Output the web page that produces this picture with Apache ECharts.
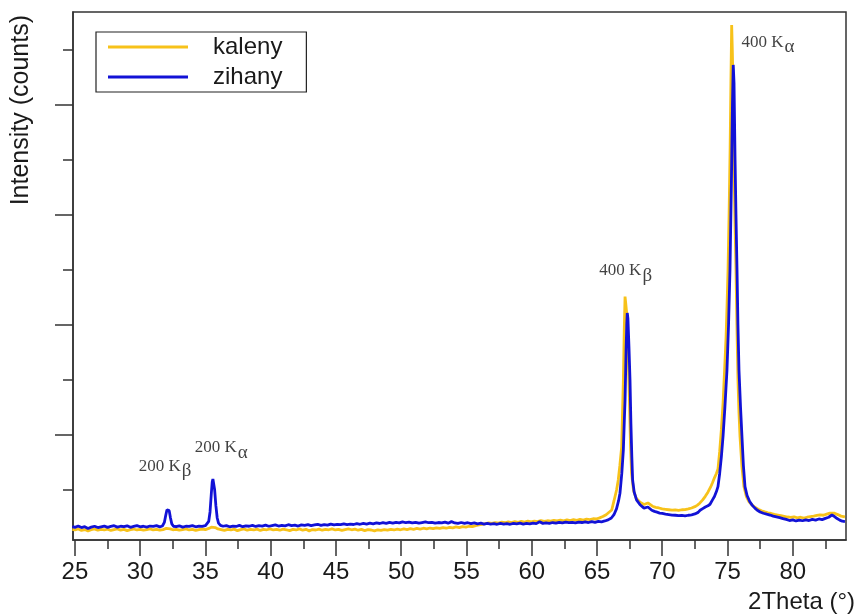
<!DOCTYPE html>
<html><head><meta charset="utf-8">
<script src="https://cdn.jsdelivr.net/npm/echarts@6/dist/echarts.min.js"></script>
<style>html,body{margin:0;padding:0;background:#fff}#c{width:860px;height:614px}</style>
</head><body><div id="c"></div>
<script>
// 2Theta (deg), intensity (counts)
const kaleny = [
[24.8,142],[25.0,136],[25.25,145],[25.5,132],[25.75,140],[26.0,128],[26.25,138],[26.5,146],[26.75,134],[27.0,142],
[27.25,136],[27.5,144],[27.75,132],[28.0,140],[28.25,146],[28.5,135],[28.75,142],[29.0,130],[29.25,140],[29.5,145],
[29.75,136],[30.0,142],[30.25,134],[30.5,140],[30.75,146],[31.0,136],[31.25,142],[31.5,134],[31.75,140],[32.0,150],
[32.15,156],[32.3,146],[32.5,138],[32.75,142],[33.0,134],[33.25,140],[33.5,146],[33.75,136],[34.0,142],[34.25,132],
[34.5,140],[34.75,145],[35.0,140],[35.25,150],[35.45,162],[35.6,168],[35.75,158],[35.95,146],[36.2,140],[36.45,132],
[36.7,142],[36.95,136],[37.2,144],[37.45,130],[37.7,140],[37.95,146],[38.2,134],[38.45,142],[38.7,136],[38.95,144],
[39.2,132],[39.45,142],[39.7,138],[39.95,146],[40.2,136],[40.45,142],[40.7,134],[40.95,144],[41.2,138],[41.45,130],
[41.7,142],[41.95,136],[42.2,146],[42.45,134],[42.7,142],[42.95,128],[43.2,140],[43.45,136],[43.7,144],[43.95,134],
[44.2,142],[44.45,138],[44.7,146],[44.95,136],[45.2,142],[45.45,132],[45.7,140],[45.95,146],[46.2,138],[46.45,144],
[46.7,134],[46.95,142],[47.2,130],[47.45,140],[47.7,136],[47.95,128],[48.2,138],[48.45,132],[48.7,140],[48.95,134],
[49.2,142],[49.45,136],[49.7,144],[49.95,138],[50.2,146],[50.45,140],[50.7,148],[50.95,142],[51.2,150],[51.45,144],
[51.7,152],[51.95,146],[52.2,154],[52.45,148],[52.7,156],[52.95,150],[53.2,158],[53.45,152],[53.7,160],[53.95,156],
[54.2,164],[54.45,158],[54.7,166],[54.95,162],[55.2,170],[55.45,166],[55.7,176],[55.95,182],[56.2,188],[56.45,194],
[56.7,200],[56.95,196],[57.2,204],[57.45,198],[57.7,208],[57.95,202],[58.2,210],[58.45,204],[58.7,212],[58.95,206],
[59.2,214],[59.45,208],[59.7,216],[59.95,210],[60.2,216],[60.45,212],[60.7,222],[60.95,214],[61.2,220],[61.45,216],
[61.7,224],[61.95,218],[62.2,226],[62.45,220],[62.7,228],[62.95,222],[63.2,230],[63.45,224],[63.7,232],[63.95,226],
[64.2,234],[64.45,230],[64.7,238],[64.95,236],[65.2,246],[65.45,258],[65.7,275],[65.9,295],[66.13,318],[66.3,400],
[66.5,500],[66.63,591],[66.75,720],[66.89,891],[67.02,1500],[67.09,1955],[67.15,2258],[67.2,2200],[67.28,2100],[67.33,1955],
[67.4,1700],[67.49,1300],[67.57,900],[67.65,650],[67.8,495],[68.0,425],[68.3,388],[68.6,368],[68.75,378],[68.9,382],
[69.05,366],[69.25,352],[69.5,342],[69.75,336],[70.0,328],[70.25,324],[70.5,320],[70.75,316],[71.0,318],[71.25,314],
[71.5,320],[71.75,322],[72.0,328],[72.25,336],[72.5,348],[72.7,362],[72.89,382],[73.1,410],[73.3,442],[73.5,480],
[73.7,525],[73.85,565],[74.0,610],[74.15,650],[74.27,690],[74.4,850],[74.53,1050],[74.66,1291],[74.78,1600],[74.89,1891],
[74.97,2200],[75.04,2500],[75.12,3000],[75.2,3600],[75.26,4200],[75.32,4727],[75.37,4500],[75.42,4200],[75.46,4045],[75.52,3300],
[75.58,2900],[75.65,2500],[75.72,2000],[75.8,1500],[75.88,1200],[75.96,982],[76.1,720],[76.26,530],[76.45,440],[76.65,392],
[76.88,364],[77.1,342],[77.35,325],[77.6,310],[77.87,300],[78.1,292],[78.35,286],[78.6,278],[78.85,272],[79.1,266],
[79.35,260],[79.6,254],[79.85,250],[80.1,256],[80.35,246],[80.6,252],[80.85,244],[81.1,252],[81.35,258],[81.6,262],
[81.85,268],[82.1,274],[82.35,270],[82.6,280],[82.85,290],[83.0,300],[83.2,288],[83.45,276],[83.7,262],[84.0,255]
];
const zihany = [
[24.8,168],[25.0,160],[25.25,172],[25.5,158],[25.75,166],[26.0,150],[26.25,162],[26.5,170],[26.75,158],[27.0,165],
[27.25,172],[27.5,160],[27.75,168],[28.0,175],[28.25,162],[28.5,170],[28.75,166],[29.0,174],[29.25,160],[29.5,168],
[29.75,176],[30.0,165],[30.25,170],[30.5,162],[30.75,172],[31.0,168],[31.25,175],[31.5,165],
[31.7,172],[31.85,205],[31.95,265],[32.05,320],[32.13,338],[32.22,312],[32.32,245],[32.42,192],[32.55,170],
[32.75,166],[33.0,174],[33.25,162],[33.5,170],[33.75,168],[34.0,176],[34.25,165],[34.5,172],[34.75,168],[35.0,175],
[35.12,180],[35.25,215],[35.35,300],[35.45,470],[35.52,575],[35.57,600],[35.63,588],[35.7,505],[35.8,355],[35.9,245],
[36.0,198],[36.15,178],[36.35,170],[36.6,176],[36.85,165],[37.1,172],[37.35,168],[37.6,178],[37.85,166],[38.1,174],
[38.35,170],[38.6,178],[38.85,168],[39.1,175],[39.35,172],[39.6,180],[39.85,170],[40.1,176],[40.35,182],[40.6,172],
[40.85,178],[41.1,174],[41.35,184],[41.6,176],[41.85,180],[42.1,172],[42.35,182],[42.6,178],[42.85,185],[43.1,176],
[43.35,182],[43.6,188],[43.85,178],[44.1,185],[44.35,180],[44.6,190],[44.85,182],[45.1,188],[45.35,184],[45.6,192],
[45.85,185],[46.1,190],[46.35,186],[46.6,194],[46.85,188],[47.1,196],[47.35,190],[47.6,198],[47.85,192],[48.1,200],
[48.35,195],[48.6,202],[48.85,196],[49.1,205],[49.35,198],[49.6,206],[49.85,200],[50.1,210],[50.35,202],[50.6,208],
[50.85,200],[51.1,206],[51.35,198],[51.6,204],[51.85,210],[52.1,202],[52.35,206],[52.6,198],[52.85,204],[53.1,200],
[53.35,208],[53.6,198],[53.85,212],[54.1,200],[54.35,196],[54.6,204],[54.85,196],[55.1,202],[55.35,194],[55.6,200],
[55.85,192],[56.1,198],[56.35,190],[56.6,196],[56.85,190],[57.1,194],[57.35,188],[57.6,196],[57.85,190],[58.1,194],
[58.35,188],[58.6,196],[58.85,192],[59.1,198],[59.35,190],[59.6,196],[59.85,192],[60.1,198],[60.35,194],[60.6,210],
[60.85,196],[61.1,200],[61.35,196],[61.6,204],[61.85,198],[62.1,206],[62.35,200],[62.6,208],[62.85,202],[63.1,206],
[63.35,200],[63.6,208],[63.85,204],[64.1,210],[64.35,204],[64.6,212],[64.85,206],[65.1,214],[65.35,210],[65.6,218],
[65.85,228],[66.1,245],[66.3,275],[66.5,330],[66.65,400],[66.76,470],[66.9,650],[67.02,864],[67.1,1150],[67.15,1318],
[67.23,1773],[67.28,2000],[67.32,2109],[67.37,2060],[67.45,1800],[67.53,1500],[67.6,1100],[67.67,800],[67.73,591],[67.85,480],
[68.03,410],[68.3,365],[68.6,335],[68.75,342],[68.9,345],[69.05,330],[69.2,315],[69.4,305],[69.6,298],[69.8,290],
[70.0,286],[70.25,280],[70.5,276],[70.75,272],[71.0,270],[71.25,266],[71.5,268],[71.75,264],[72.0,270],[72.25,274],
[72.5,282],[72.75,296],[72.9,315],[73.1,330],[73.3,345],[73.5,356],[73.66,370],[73.85,410],[74.0,440],[74.15,485],
[74.27,530],[74.4,650],[74.53,800],[74.66,990],[74.8,1250],[74.96,1590],[75.08,2000],[75.19,2500],[75.3,3300],[75.38,4000],
[75.44,4364],[75.5,4200],[75.58,3500],[75.65,3000],[75.73,2500],[75.8,2000],[75.88,1590],[76.0,1250],[76.11,980],[76.22,720],
[76.34,530],[76.5,450],[76.7,395],[76.9,360],[77.1,335],[77.26,318],[77.5,300],[77.75,288],[78.0,280],[78.26,272],
[78.5,262],[78.75,255],[79.0,248],[79.25,240],[79.5,232],[79.75,222],[80.0,228],[80.25,218],[80.5,226],[80.75,220],
[81.0,228],[81.25,222],[81.5,232],[81.75,226],[82.0,236],[82.25,230],[82.5,242],[82.75,252],[83.0,272],[83.2,258],
[83.4,240],[83.6,226],[83.8,216],[84.0,212]
];
const xMajorTicks = [25,30,35,40,45,50,55,60,65,70,75,80];
const xMinorTicks = [27.5,32.5,37.5,42.5,47.5,52.5,57.5,62.5,67.5,72.5,77.5,82.5];
const yMajorTicks = [1000,2000,3000,4000];
const yMinorTicks = [500,1500,2500,3500,4500];
const peakLabels = [
  {theta:31.9, counts:700, main:'200 K', sub:'β'},
  {theta:36.2, counts:870, main:'200 K', sub:'α'},
  {theta:67.2, counts:2480, main:'400 K', sub:'β'},
  {theta:78.1, counts:4555, main:'400 K', sub:'α'}
];

const SANS = "'Liberation Sans', Arial, sans-serif";
const SERIF = "'Liberation Serif', 'Times New Roman', serif";
const AX = '#333';
const X_MIN = 24.85, X_MAX = 84.08, Y_MIN = 45, Y_MAX = 4845;

const chart = echarts.init(document.getElementById('c'), null, {renderer:'canvas'});
chart.setOption({
  animation: false,
  backgroundColor: '#fff',
  grid: {left:73, right:14, top:12, bottom:74, show:true, borderColor:AX, borderWidth:1.5, backgroundColor:'transparent'},
  legend: {
    data:[{name:'kaleny', icon:'rect'},{name:'zihany', icon:'rect'}],
    orient:'vertical', left:96, top:32,
    padding:[3,24,3,12], itemGap:6, itemWidth:80, itemHeight:3,
    borderColor:'#222', borderWidth:1.2,
    textStyle:{fontSize:24, fontFamily:SANS, color:'#1a1a1a', padding:[0,0,0,20], lineHeight:24}
  },
  xAxis: [
    {type:'value', min:X_MIN, max:X_MAX, position:'bottom',
     axisLine:{show:true, lineStyle:{color:AX, width:1.5}},
     axisTick:{show:true, customValues:xMajorTicks, length:16, lineStyle:{color:AX, width:1.5}},
     axisLabel:{show:true, customValues:xMajorTicks, fontSize:24, fontFamily:SANS, color:'#1a1a1a', margin:20},
     splitLine:{show:false},
     name:'2Theta (°)', nameLocation:'end', nameGap:9,
     nameTextStyle:{fontSize:24, fontFamily:SANS, color:'#1a1a1a', align:'right', verticalAlign:'top', padding:[50,0,0,0]}
    },
    {type:'value', min:X_MIN, max:X_MAX, position:'bottom',
     axisLine:{show:false},
     axisTick:{show:true, customValues:xMinorTicks, length:9, lineStyle:{color:AX, width:1.5}},
     axisLabel:{show:false}, splitLine:{show:false}
    }
  ],
  yAxis: [
    {type:'value', min:Y_MIN, max:Y_MAX, position:'left',
     axisLine:{show:true, lineStyle:{color:AX, width:1.5}},
     axisTick:{show:true, customValues:yMajorTicks, length:18, lineStyle:{color:AX, width:1.5}},
     axisLabel:{show:false}, splitLine:{show:false},
     name:'Intensity (counts)', nameLocation:'end', nameRotate:90, nameGap:-3,
     nameTextStyle:{fontSize:25, fontFamily:SANS, color:'#1a1a1a', align:'right', verticalAlign:'bottom', padding:[0,0,39,0]}
    },
    {type:'value', min:Y_MIN, max:Y_MAX, position:'left',
     axisLine:{show:false},
     axisTick:{show:true, customValues:yMinorTicks, length:10, lineStyle:{color:AX, width:1.5}},
     axisLabel:{show:false}, splitLine:{show:false}
    }
  ],
  series: [
    {name:'kaleny', type:'line', data:kaleny, symbol:'none', showSymbol:false,
     lineStyle:{color:'#F7C21A', width:2.8}, itemStyle:{color:'#F7C21A'}, z:2},
    {name:'zihany', type:'line', data:zihany, symbol:'none', showSymbol:false,
     lineStyle:{color:'#1212D6', width:2.8}, itemStyle:{color:'#1212D6'}, z:3},
    {name:'peaks', type:'scatter', symbolSize:0, silent:true, z:4,
     data: peakLabels.map(p => ({value:[p.theta, p.counts], main:p.main, sub:p.sub})),
     label:{show:true, position:'inside',
       formatter: p => '{m|' + p.data.main + '}{s|' + p.data.sub + '}',
       rich:{
         m:{fontFamily:SERIF, fontSize:17, color:'#111', lineHeight:20, verticalAlign:'top'},
         s:{fontFamily:SERIF, fontSize:19, color:'#111', lineHeight:20, verticalAlign:'top', padding:[4,0,0,1]}
       }}
    }
  ]
});
</script></body></html>
